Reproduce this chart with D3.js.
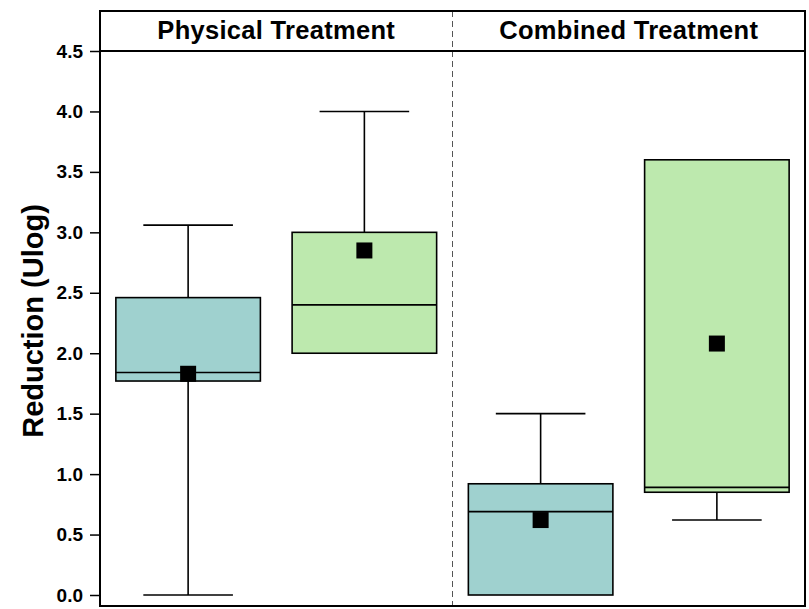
<!DOCTYPE html>
<html>
<head>
<meta charset="utf-8">
<script src="https://cdn.jsdelivr.net/npm/d3@7"></script>
<style>
  body { margin: 0; background: #fff; }
  text { font-family: Arial, "Liberation Sans", sans-serif; font-weight: bold; fill: #000; }
</style>
</head>
<body>
<div id="chart"></div>
<script>
// panels and groups
const panels = ["Physical Treatment", "Combined Treatment"];
const groups = ["Group 1", "Group 2"];
const fills = ["#9fd1cf", "#bde9ae"];

// box stats per panel, in group order
const whiskerLow = [[0.0, 2.0], [0.0, 0.62]];
const q1 = [[1.77, 2.0], [0.0, 0.85]];
const median = [[1.84, 2.4], [0.69, 0.89]];
const q3 = [[2.46, 3.0], [0.92, 3.6]];
const whiskerHigh = [[3.06, 4.0], [1.5, 3.6]];
const means = [[1.83, 2.85], [0.62, 2.08]];

const yTicks = [0, 0.5, 1.0, 1.5, 2.0, 2.5, 3.0, 3.5, 4.0, 4.5];

const width = 809, height = 609;
const mLeft = 100, mRight = 805, mTop = 11, mBottom = 606, headerBottom = 51;

const svg = d3.select("#chart").append("svg")
    .attr("width", width)
    .attr("height", height);

const y = d3.scaleLinear().domain([0, 4.5]).range([595, headerBottom]);
const xPanel = d3.scaleBand().domain(panels).range([mLeft, mRight]);
const xGroup = d3.scaleBand().domain(groups).range([0, xPanel.bandwidth()])
    .paddingInner(0.18).paddingOuter(0.09);

// y axis
const yAxis = svg.append("g")
    .attr("transform", `translate(${mLeft},0)`)
    .call(d3.axisLeft(y).tickValues(yTicks).tickFormat(d3.format(".1f")).tickSize(10).tickPadding(7));
yAxis.select(".domain").remove();
yAxis.selectAll("line").attr("stroke", "#000").attr("stroke-width", 1.5);
yAxis.selectAll("text")
    .style("font-size", "19px")
    .style("font-family", "Arial, 'Liberation Sans', sans-serif")
    .style("font-weight", "bold");

svg.append("text")
    .attr("transform", `translate(43,321) rotate(-90)`)
    .attr("text-anchor", "middle")
    .style("font-size", "29px")
    .text("Reduction (Ulog)");

// panel divider
svg.append("line")
    .attr("x1", xPanel(panels[1])).attr("x2", xPanel(panels[1]))
    .attr("y1", mTop).attr("y2", mBottom)
    .attr("stroke", "#555").attr("stroke-width", 1)
    .attr("stroke-dasharray", "6,4");

// header strip
svg.append("line")
    .attr("x1", mLeft).attr("x2", mRight)
    .attr("y1", headerBottom).attr("y2", headerBottom)
    .attr("stroke", "#000").attr("stroke-width", 2);

svg.selectAll(".panel-title")
    .data(panels)
    .enter().append("text")
    .attr("class", "panel-title")
    .attr("x", d => xPanel(d) + xPanel.bandwidth() / 2)
    .attr("y", 39)
    .attr("text-anchor", "middle")
    .style("font-size", "25.5px")
    .style("letter-spacing", "0.3px")
    .text(d => d);

// boxes
const rows = [];
panels.forEach((p, i) => {
    groups.forEach((g, j) => {
        rows.push({
            panel: p, group: g, fill: fills[j],
            lo: whiskerLow[i][j], q1: q1[i][j], med: median[i][j],
            q3: q3[i][j], hi: whiskerHigh[i][j], mean: means[i][j]
        });
    });
});

const bw = xGroup.bandwidth();
const capW = bw * 0.62;

const box = svg.selectAll(".box")
    .data(rows)
    .enter().append("g")
    .attr("class", "box")
    .attr("transform", d => `translate(${xPanel(d.panel) + xGroup(d.group)},0)`);

// whiskers
box.append("line")
    .attr("x1", bw / 2).attr("x2", bw / 2)
    .attr("y1", d => y(d.lo)).attr("y2", d => y(d.hi))
    .attr("stroke", "#000").attr("stroke-width", 1.6);
box.filter(d => d.lo < d.q1).append("line")
    .attr("x1", (bw - capW) / 2).attr("x2", (bw + capW) / 2)
    .attr("y1", d => y(d.lo)).attr("y2", d => y(d.lo))
    .attr("stroke", "#000").attr("stroke-width", 1.6);
box.filter(d => d.hi > d.q3).append("line")
    .attr("x1", (bw - capW) / 2).attr("x2", (bw + capW) / 2)
    .attr("y1", d => y(d.hi)).attr("y2", d => y(d.hi))
    .attr("stroke", "#000").attr("stroke-width", 1.6);

box.append("rect")
    .attr("x", 0).attr("width", bw)
    .attr("y", d => y(d.q3))
    .attr("height", d => y(d.q1) - y(d.q3))
    .attr("fill", d => d.fill)
    .attr("stroke", "#000").attr("stroke-width", 1.6);

box.append("line")
    .attr("x1", 0).attr("x2", bw)
    .attr("y1", d => y(d.med)).attr("y2", d => y(d.med))
    .attr("stroke", "#000").attr("stroke-width", 1.6);

const sq = 16;
box.append("rect")
    .attr("x", bw / 2 - sq / 2).attr("width", sq)
    .attr("y", d => y(d.mean) - sq / 2).attr("height", sq)
    .attr("fill", "#000");

// outer frame
svg.append("rect")
    .attr("x", mLeft).attr("y", mTop)
    .attr("width", mRight - mLeft).attr("height", mBottom - mTop)
    .attr("fill", "none")
    .attr("stroke", "#000").attr("stroke-width", 2);
</script>
</body>
</html>
